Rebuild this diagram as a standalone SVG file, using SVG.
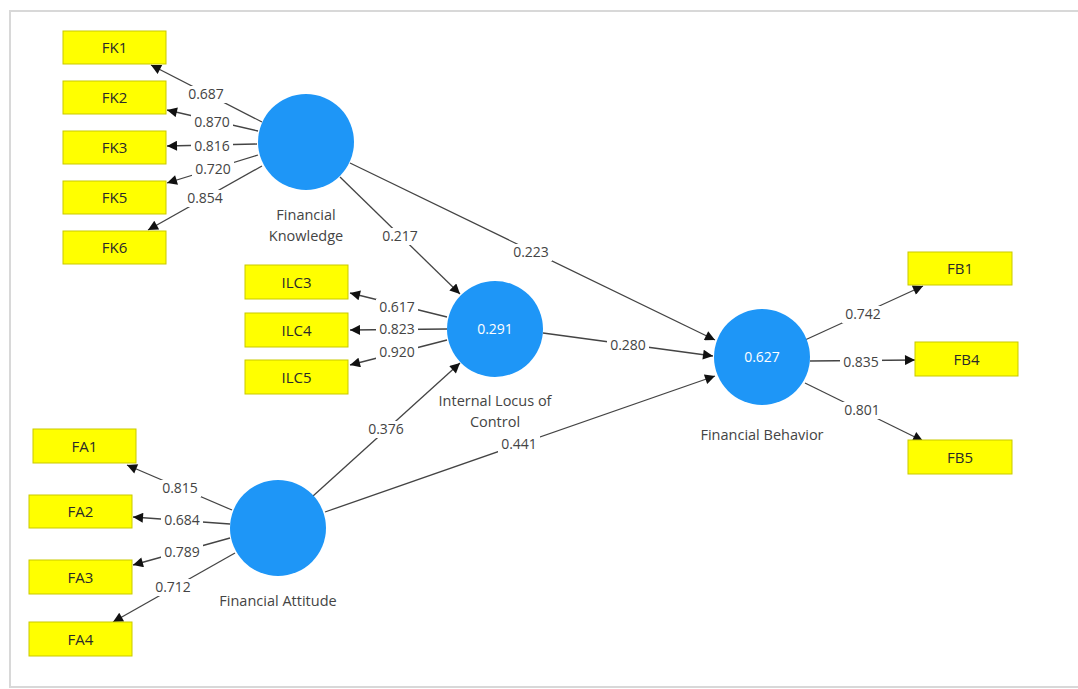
<svg xmlns="http://www.w3.org/2000/svg" width="1078" height="689" viewBox="0 0 1078 689">
<defs>
<marker id="arr" viewBox="0 0 10 10" refX="10" refY="5" markerWidth="11" markerHeight="10" markerUnits="userSpaceOnUse" orient="auto"><path d="M0,0 L10,5 L0,10 z" fill="#111"/></marker>
</defs>
<style>
.frame{fill:#fff;stroke:#d8d8d8;stroke-width:2}
.ind rect{fill:#ffff00;stroke:#c9c900;stroke-width:1}
.ind text{font-family:"Open Sans","Noto Sans",sans-serif;font-size:15px;fill:#2a2a2a;text-anchor:middle}
.lv circle{fill:#1e96f7}
.lv text.r{font-family:"Open Sans","Noto Sans",sans-serif;font-size:14px;fill:#fff;text-anchor:middle}
.lv text.n{font-family:"Open Sans","Noto Sans",sans-serif;font-size:14.5px;fill:#444;text-anchor:middle}
.conn line{stroke:#444;stroke-width:1.3;marker-end:url(#arr)}
.lab rect{fill:#fff}
.lab text{font-family:"Open Sans","Noto Sans",sans-serif;font-size:14px;fill:#444;text-anchor:middle}
</style>
<rect width="1078" height="689" fill="#fff"/>
<rect class="frame" x="10" y="11" width="1080" height="676"/>

<g id="connectors">
<g class="conn">
<line x1="262" y1="122" x2="151" y2="65"/>
<line x1="258" y1="131" x2="167" y2="110"/>
<line x1="257" y1="144" x2="167" y2="146"/>
<line x1="258" y1="155" x2="167" y2="183"/>
<line x1="262" y1="166" x2="148" y2="230"/>
<line x1="447" y1="317" x2="350" y2="293"/>
<line x1="447" y1="329" x2="350" y2="330"/>
<line x1="447" y1="340" x2="350" y2="365"/>
<line x1="340" y1="177" x2="460" y2="294"/>
<line x1="350" y1="163" x2="715" y2="340"/>
<line x1="543" y1="333" x2="713" y2="356"/>
<line x1="313" y1="496" x2="460" y2="363"/>
<line x1="325" y1="512" x2="715" y2="376"/>
<line x1="805" y1="340" x2="923" y2="286"/>
<line x1="810" y1="361" x2="915" y2="360"/>
<line x1="805" y1="383" x2="923" y2="441"/>
<line x1="232" y1="510" x2="127" y2="465"/>
<line x1="230" y1="524" x2="133" y2="517"/>
<line x1="230" y1="538" x2="133" y2="565"/>
<line x1="235" y1="553" x2="113" y2="622"/>
</g>
<g class="lab">
<rect x="185" y="86" width="42" height="17"/><text x="206" y="99">0.687</text>
<rect x="191" y="114" width="42" height="17"/><text x="212" y="127">0.870</text>
<rect x="191" y="138" width="42" height="17"/><text x="212" y="151">0.816</text>
<rect x="192" y="161" width="42" height="17"/><text x="213" y="174">0.720</text>
<rect x="184" y="190" width="42" height="17"/><text x="205" y="203">0.854</text>
<rect x="376" y="299" width="42" height="17"/><text x="397" y="312">0.617</text>
<rect x="376" y="321" width="42" height="17"/><text x="397" y="334">0.823</text>
<rect x="376" y="344" width="42" height="17"/><text x="397" y="357">0.920</text>
<rect x="379" y="228" width="42" height="17"/><text x="400" y="241">0.217</text>
<rect x="510" y="244" width="42" height="17"/><text x="531" y="257">0.223</text>
<rect x="607" y="337" width="42" height="17"/><text x="628" y="350">0.280</text>
<rect x="365" y="421" width="42" height="17"/><text x="386" y="434">0.376</text>
<rect x="498" y="436" width="42" height="17"/><text x="519" y="449">0.441</text>
<rect x="842" y="306" width="42" height="17"/><text x="863" y="319">0.742</text>
<rect x="840" y="354" width="42" height="17"/><text x="861" y="367">0.835</text>
<rect x="841" y="402" width="42" height="17"/><text x="862" y="415">0.801</text>
<rect x="159" y="480" width="42" height="17"/><text x="180" y="493">0.815</text>
<rect x="161" y="512" width="42" height="17"/><text x="182" y="525">0.684</text>
<rect x="161" y="544" width="42" height="17"/><text x="182" y="557">0.789</text>
<rect x="152" y="579" width="42" height="17"/><text x="173" y="592">0.712</text>
</g>
</g>

<g id="FK1" class="ind"><rect x="63" y="31" width="103" height="33"/><text x="114.5" y="53">FK1</text></g>
<g id="FK2" class="ind"><rect x="63" y="81" width="103" height="33"/><text x="114.5" y="103">FK2</text></g>
<g id="FK3" class="ind"><rect x="63" y="131" width="103" height="33"/><text x="114.5" y="153">FK3</text></g>
<g id="FK5" class="ind"><rect x="63" y="181" width="103" height="33"/><text x="114.5" y="203">FK5</text></g>
<g id="FK6" class="ind"><rect x="63" y="231" width="103" height="33"/><text x="114.5" y="253">FK6</text></g>

<g id="ILC3" class="ind"><rect x="245" y="265" width="103" height="34"/><text x="296.5" y="288">ILC3</text></g>
<g id="ILC4" class="ind"><rect x="245" y="313" width="103" height="34"/><text x="296.5" y="336">ILC4</text></g>
<g id="ILC5" class="ind"><rect x="245" y="360" width="103" height="34"/><text x="296.5" y="383">ILC5</text></g>

<g id="FA1" class="ind"><rect x="33" y="429" width="103" height="34"/><text x="84.5" y="452">FA1</text></g>
<g id="FA2" class="ind"><rect x="29" y="495" width="103" height="33"/><text x="80.5" y="517">FA2</text></g>
<g id="FA3" class="ind"><rect x="29" y="560" width="103" height="34"/><text x="80.5" y="583">FA3</text></g>
<g id="FA4" class="ind"><rect x="29" y="622" width="103" height="34"/><text x="80.5" y="645">FA4</text></g>

<g id="FB1" class="ind"><rect x="908" y="252" width="104" height="33"/><text x="960" y="274">FB1</text></g>
<g id="FB4" class="ind"><rect x="915" y="342" width="103" height="34"/><text x="966.5" y="365">FB4</text></g>
<g id="FB5" class="ind"><rect x="908" y="440" width="104" height="34"/><text x="960" y="463">FB5</text></g>

<g id="FinancialKnowledge" class="lv"><circle cx="306" cy="142" r="48"/><text class="n" x="306" y="220">Financial</text><text class="n" x="306" y="241">Knowledge</text></g>
<g id="InternalLocusOfControl" class="lv"><circle cx="495" cy="329" r="48"/><text class="r" x="495" y="334">0.291</text><text class="n" x="495" y="406">Internal Locus of</text><text class="n" x="495" y="427">Control</text></g>
<g id="FinancialAttitude" class="lv"><circle cx="278" cy="528" r="48"/><text class="n" x="278" y="606">Financial Attitude</text></g>
<g id="FinancialBehavior" class="lv"><circle cx="762" cy="357" r="48"/><text class="r" x="762" y="362">0.627</text><text class="n" x="762" y="440">Financial Behavior</text></g>
</svg>
